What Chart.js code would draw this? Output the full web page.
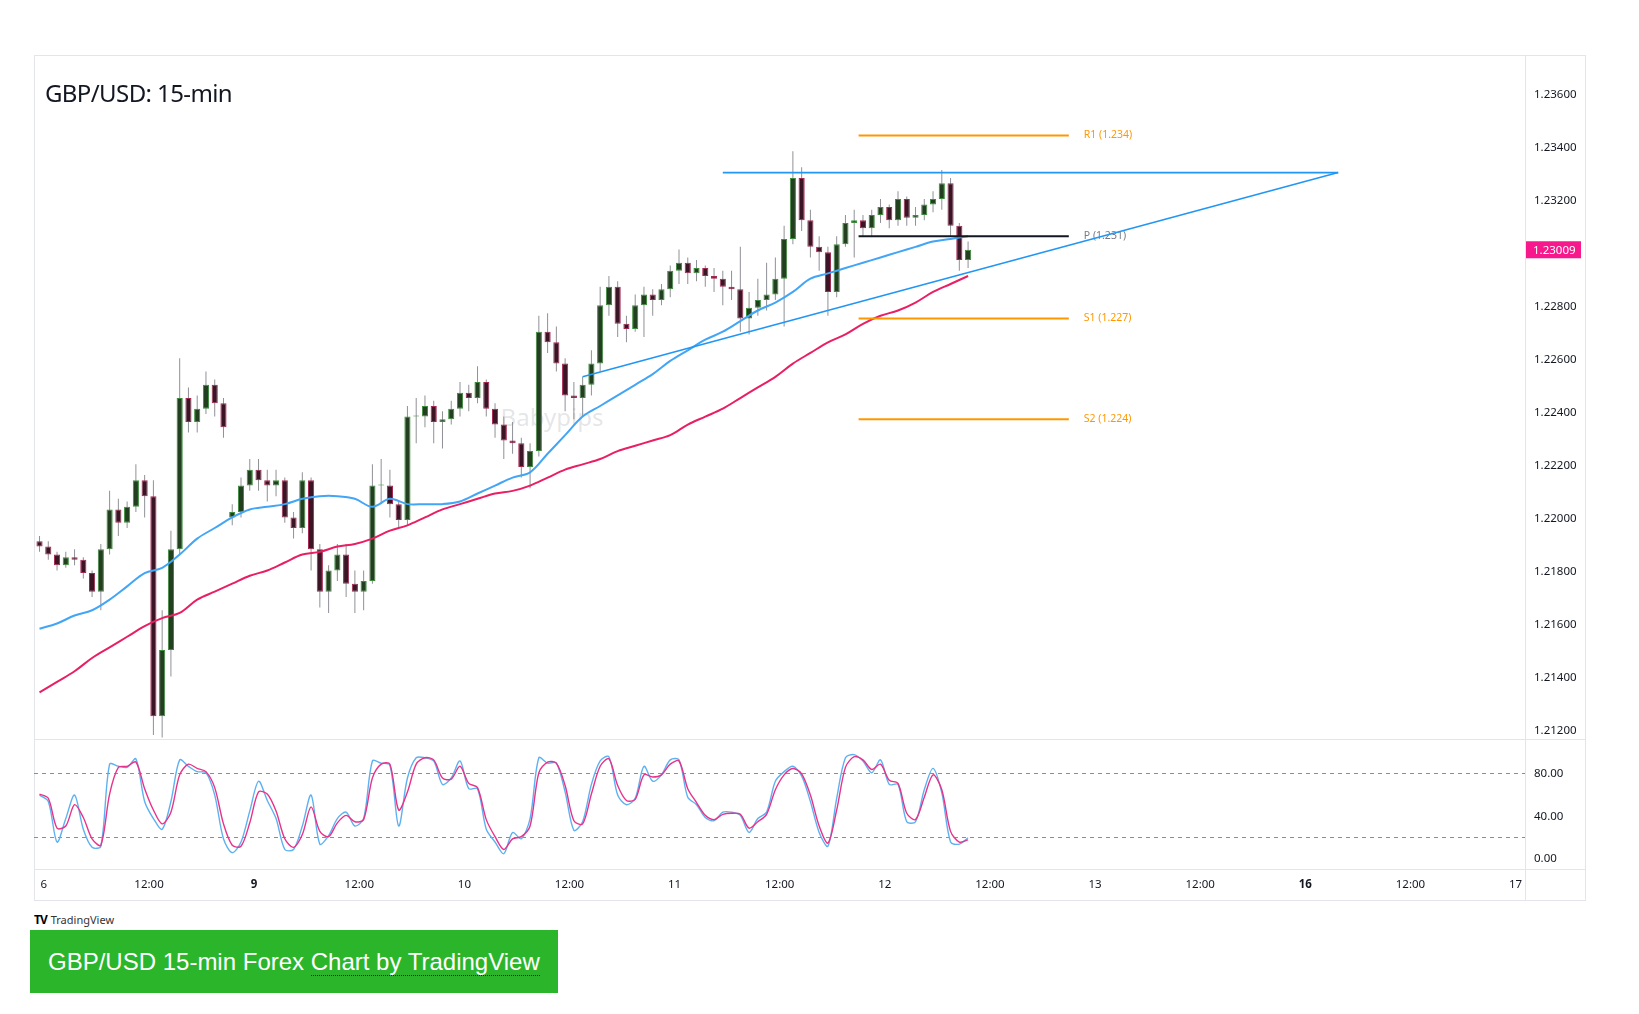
<!DOCTYPE html>
<html lang="en">
<head>
<meta charset="utf-8">
<title>GBP/USD 15-min</title>
<script src="https://cdn.jsdelivr.net/npm/chart.js@4.4.1/dist/chart.umd.min.js"></script>
<style>
  html, body { margin: 0; padding: 0; background: #fff; }
  body { position: relative; width: 1639px; height: 1014px; overflow: hidden; font-family: "Noto Sans", sans-serif; }
  .box { position: absolute; }
  #frame { left: 34px; top: 55px; width: 1552px; height: 846px; border: 1px solid #e3e5ea; box-sizing: border-box; }
  #vsep { left: 1525px; top: 55px; width: 1px; height: 846px; background: #e3e5ea; }
  #hsep1 { left: 34px; top: 739px; width: 1552px; height: 1px; background: #e3e5ea; }
  #hsep2 { left: 34px; top: 869px; width: 1552px; height: 1px; background: #e3e5ea; }
  #watermark { left: 552px; top: 416px; transform: translate(-50%, -50%); font-size: 24px; color: rgba(120,123,134,0.2); }
  #title { left: 45px; top: 77px; font-size: 24px; letter-spacing: -0.6px; color: #131722; line-height: 32px; }
  #mainWrap { left: 34px; top: 55px; width: 1552px; height: 684px; }
  #stochWrap { left: 34px; top: 739px; width: 1552px; height: 162px; }
  #tvlogo { left: 34px; top: 911px; font-size: 11px; color: #333; }
  #tvlogo b { font-size: 12px; color: #000; letter-spacing: -1px; margin-right: 4px; }
  #cta { left: 30px; top: 930px; width: 528px; height: 63px; background: #2bb52a; color: #fff;
         font-family: "Liberation Sans", Arial, sans-serif; font-size: 24px; line-height: 63px;
         padding-left: 18px; box-sizing: border-box; white-space: nowrap; }
  #cta span { border-bottom: 1px dotted #222; }
</style>
</head>
<body>
<div class="box" id="frame"></div>
<div class="box" id="watermark">Babypips</div>
<div class="box" id="mainWrap"><canvas id="mainChart" width="1552" height="684"></canvas></div>
<div class="box" id="stochWrap"><canvas id="stochChart" width="1552" height="162"></canvas></div>
<div class="box" id="vsep"></div>
<div class="box" id="hsep1"></div>
<div class="box" id="hsep2"></div>
<div class="box" id="title">GBP/USD: 15-min</div>
<div class="box" id="tvlogo"><b>TV</b>TradingView</div>
<div class="box" id="cta">GBP/USD 15-min Forex <span>Chart by TradingView</span></div>

<script>
// time axis: one slot = 15 minutes, a label every 48 slots (12 h)
const timeLabels = ['6', '12:00', '9', '12:00', '10', '12:00', '11', '12:00', '12', '12:00', '13', '12:00', '16', '12:00', '17'];
const boldLabels = ['9', '16'];
const slotsPerLabel = 48;
const slotsPerCandle = 4;
const firstCandleSlot = -2;
const maStep = 8;           // moving averages read every 2 hours

const priceTicks = [1.212, 1.214, 1.216, 1.218, 1.220, 1.222, 1.224, 1.226, 1.228, 1.230, 1.232, 1.234, 1.236];

// hourly OHLC
const open = [
  1.2191, 1.2189, 1.2186, 1.2182, 1.2185, 1.2184, 1.2179, 1.2172, 1.2188, 1.2203,
  1.2198, 1.2204, 1.2214, 1.2208, 1.2125, 1.2150, 1.2188, 1.2245, 1.2236, 1.2241,
  1.2250, 1.2243, 1.2200, 1.2202, 1.2212, 1.2218, 1.2214, 1.2212, 1.2214, 1.2200,
  1.2196, 1.2214, 1.2188, 1.2172, 1.2180, 1.2186, 1.2175, 1.2172, 1.2176, 1.2212,
  1.2212, 1.2205, 1.2199, 1.2238, 1.2238, 1.2242, 1.2236, 1.2237, 1.2241, 1.2247,
  1.2245, 1.2251, 1.2241, 1.2235, 1.2229, 1.2228, 1.2219, 1.2225, 1.2270, 1.2266,
  1.2258, 1.2246, 1.2245, 1.2250, 1.2258, 1.2280, 1.2287, 1.2273, 1.2271, 1.2280,
  1.2284, 1.2282, 1.2286, 1.2293, 1.2296, 1.2292, 1.2294, 1.2291, 1.2290, 1.2287,
  1.2286, 1.2275, 1.2279, 1.2282, 1.2284, 1.2290, 1.2305, 1.2328, 1.2312, 1.2302,
  1.2300, 1.2285, 1.2303, 1.2311, 1.2312, 1.2309, 1.2314, 1.2317, 1.2312, 1.2320,
  1.2313, 1.2314, 1.2318, 1.2320, 1.2326, 1.2310, 1.2297
];
const high = [
  1.2193, 1.2191, 1.2187, 1.2187, 1.2188, 1.2185, 1.2180, 1.2190, 1.2210, 1.2207,
  1.2206, 1.2220, 1.2216, 1.2214, 1.2165, 1.2195, 1.2260, 1.2249, 1.2246, 1.2255,
  1.2252, 1.2245, 1.2205, 1.2215, 1.2222, 1.2222, 1.2218, 1.2218, 1.2215, 1.2202,
  1.2217, 1.2215, 1.2190, 1.2182, 1.2190, 1.2190, 1.2180, 1.2180, 1.2220, 1.2222,
  1.2218, 1.2206, 1.2242, 1.2245, 1.2246, 1.2244, 1.2240, 1.2244, 1.2251, 1.2250,
  1.2257, 1.2252, 1.2243, 1.2238, 1.2236, 1.2230, 1.2228, 1.2276, 1.2277, 1.2272,
  1.2260, 1.2251, 1.2253, 1.2263, 1.2287, 1.2291, 1.2289, 1.2276, 1.2284, 1.2287,
  1.2286, 1.2288, 1.2295, 1.2301, 1.2298, 1.2297, 1.2295, 1.2294, 1.2293, 1.2293,
  1.2302, 1.2285, 1.2290, 1.2296, 1.2298, 1.2310, 1.2338, 1.2332, 1.2316, 1.2306,
  1.2302, 1.2306, 1.2314, 1.2316, 1.2314, 1.2316, 1.2320, 1.2318, 1.2323, 1.2321,
  1.2317, 1.2320, 1.2323, 1.2331, 1.2328, 1.2311, 1.2304
];
const low = [
  1.2187, 1.2184, 1.2180, 1.2181, 1.2182, 1.2177, 1.2170, 1.2165, 1.2186, 1.2193,
  1.2196, 1.2202, 1.2200, 1.2118, 1.2117, 1.2140, 1.2186, 1.2232, 1.2232, 1.2239,
  1.2238, 1.2230, 1.2197, 1.2200, 1.2210, 1.2210, 1.2206, 1.2208, 1.2198, 1.2192,
  1.2194, 1.2180, 1.2166, 1.2164, 1.2176, 1.2170, 1.2164, 1.2165, 1.2175, 1.2205,
  1.2200, 1.2196, 1.2197, 1.2228, 1.2234, 1.2228, 1.2226, 1.2235, 1.2238, 1.2240,
  1.2243, 1.2238, 1.2230, 1.2222, 1.2224, 1.2215, 1.2211, 1.2223, 1.2262, 1.2255,
  1.2240, 1.2237, 1.2238, 1.2246, 1.2255, 1.2276, 1.2268, 1.2266, 1.2270, 1.2268,
  1.2276, 1.2280, 1.2283, 1.2288, 1.2288, 1.2289, 1.2287, 1.2285, 1.2280, 1.2282,
  1.2270, 1.2269, 1.2276, 1.2278, 1.2282, 1.2272, 1.2303, 1.2308, 1.2298, 1.2293,
  1.2276, 1.2283, 1.2302, 1.2298, 1.2306, 1.2306, 1.2311, 1.2309, 1.2310, 1.2310,
  1.2310, 1.2312, 1.2315, 1.2316, 1.2306, 1.2293, 1.2294
];
const close = [
  1.2189, 1.2186, 1.2182, 1.2185, 1.2184, 1.2179, 1.2172, 1.2188, 1.2203, 1.2198,
  1.2204, 1.2214, 1.2208, 1.2125, 1.2150, 1.2188, 1.2245, 1.2236, 1.2241, 1.2250,
  1.2243, 1.2234, 1.2202, 1.2212, 1.2218, 1.2214, 1.2212, 1.2214, 1.2200, 1.2196,
  1.2214, 1.2188, 1.2172, 1.2180, 1.2186, 1.2175, 1.2172, 1.2176, 1.2212, 1.2212,
  1.2205, 1.2199, 1.2238, 1.2238, 1.2242, 1.2236, 1.2237, 1.2241, 1.2247, 1.2245,
  1.2251, 1.2241, 1.2235, 1.2229, 1.2228, 1.2219, 1.2225, 1.2270, 1.2266, 1.2258,
  1.2246, 1.2245, 1.2250, 1.2258, 1.2280, 1.2287, 1.2273, 1.2271, 1.2280, 1.2284,
  1.2282, 1.2286, 1.2293, 1.2296, 1.2292, 1.2294, 1.2291, 1.2290, 1.2287, 1.2286,
  1.2275, 1.2279, 1.2282, 1.2284, 1.2290, 1.2305, 1.2328, 1.2312, 1.2302, 1.2300,
  1.2285, 1.2303, 1.2311, 1.2312, 1.2309, 1.2314, 1.2317, 1.2312, 1.2320, 1.2313,
  1.2314, 1.2318, 1.2320, 1.2326, 1.2310, 1.2297, 1.23009
];

// moving averages, one value every 2 hours
const maBlue = [
  1.2158, 1.2160, 1.2163, 1.2165, 1.2169, 1.2174, 1.2179, 1.2181, 1.2186, 1.2192,
  1.2196, 1.2200, 1.2203, 1.2204, 1.2205, 1.2207, 1.2208, 1.2208, 1.2207, 1.2204,
  1.2207, 1.2205, 1.2205, 1.2205, 1.2206, 1.2209, 1.2212, 1.2215, 1.2217, 1.2224,
  1.2231, 1.2238, 1.2242, 1.2246, 1.2250, 1.2254, 1.2259, 1.2263, 1.2267, 1.2270,
  1.2274, 1.2278, 1.2281, 1.2285, 1.2290, 1.2292, 1.2294, 1.2296, 1.2298, 1.2300,
  1.2302, 1.2304, 1.2305, 1.2306
];
const maPink = [
  1.2134, 1.2138, 1.2142, 1.2147, 1.2151, 1.2155, 1.2159, 1.2162, 1.2164, 1.2169,
  1.2172, 1.2175, 1.2178, 1.2180, 1.2183, 1.2186, 1.2187, 1.2189, 1.2190, 1.2192,
  1.2195, 1.2197, 1.2200, 1.2203, 1.2205, 1.2207, 1.2209, 1.2210, 1.2212, 1.2215,
  1.2218, 1.2220, 1.2222, 1.2225, 1.2227, 1.2229, 1.2231, 1.2235, 1.2238, 1.2241,
  1.2245, 1.2249, 1.2253, 1.2258, 1.2262, 1.2266, 1.2269, 1.2273, 1.2276, 1.2278,
  1.2281, 1.2285, 1.2288, 1.2291
];

// stochastic, hourly
const stochK = [
  59, 53, 15, 37, 59, 27, 10, 11, 88, 86,
  85, 93, 53, 37, 27, 53, 92, 86, 81, 80,
  59, 18, 5, 15, 44, 72, 54, 37, 8, 8,
  30, 59, 13, 21, 37, 43, 30, 37, 91, 89,
  87, 30, 75, 94, 94, 91, 69, 75, 91, 65,
  65, 27, 15, 4, 24, 18, 37, 94, 89, 89,
  62, 26, 34, 69, 91, 95, 59, 50, 56, 86,
  72, 78, 92, 92, 57, 50, 38, 35, 43, 43,
  40, 24, 37, 43, 72, 81, 86, 77, 53, 24,
  11, 56, 94, 97, 91, 80, 92, 69, 69, 34,
  34, 64, 84, 61, 15, 13, 19
];
const stochD = [
  60, 56, 28, 30, 50, 38, 18, 12, 60, 85,
  86, 90, 65, 45, 32, 43, 78, 88, 84, 81,
  66, 32, 12, 11, 33, 62, 60, 44, 18, 10,
  22, 48, 25, 20, 33, 40, 34, 36, 75, 88,
  88, 45, 62, 88, 94, 92, 75, 74, 86, 70,
  66, 36, 20, 8, 18, 20, 30, 80, 90, 89,
  68, 35, 32, 60, 86, 93, 68, 54, 55, 78,
  76, 78, 88, 91, 65, 52, 40, 36, 41, 42,
  41, 28, 34, 41, 64, 78, 84, 79, 59, 30,
  14, 45, 85, 95, 92, 83, 88, 73, 70, 42,
  36, 57, 78, 64, 25, 15, 17
];
const stochBands = [80, 20];
const stochTicks = [0, 40, 80];

// pivot levels and drawn lines
const levelNames = ['R1', 'P', 'S1', 'S2'];
const levelValues = [1.2344, 1.2306, 1.2275, 1.2237];
const levelTags = ['R1 (1.234)', 'P (1.231)', 'S1 (1.227)', 'S2 (1.224)'];
const levelFrom = 372, levelTo = 468;
const resistance = { from: 310, to: 591, price: 1.2330 };
const trendline = { from: 246, to: 591, fromPrice: 1.2253, toPrice: 1.2330 };

const xMin = -4.52, xMax = 676.3;

const lastPrice = close[close.length - 1];
const slotOf = i => firstCandleSlot + slotsPerCandle * i;
const isUp = i => close[i] >= open[i];

const candleWicks = low.map((l, i) => ({ x: slotOf(i), y: [l, high[i]] }));
const candleBodies = open.map((o, i) => ({ x: slotOf(i), y: [o, close[i]] }));
const maPoints = arr => arr.map((v, k) => ({ x: firstCandleSlot + maStep * k, y: v }));
const hourly = arr => arr.map((v, i) => ({ x: slotOf(i), y: v }));

const lineDs = (data, color, width, order) => ({
  type: 'line', data, borderColor: color, borderWidth: width,
  pointRadius: 0, tension: 0, order
});

const levelSets = levelValues.map((v, i) => lineDs(
  [{ x: levelFrom, y: v }, { x: levelTo, y: v }],
  levelNames[i] === 'P' ? '#131722' : '#ff9800', 2, 2));

const xAxisCommon = { type: 'linear', min: xMin, max: xMax, offset: false };

function fixWidth(scale) {
  scale.width = 61;
  scale.paddingTop = 0;
  scale.paddingBottom = 0;
}

const overlayPlugin = {
  id: 'overlay',
  beforeDatasetsDraw(chart) {
    const { ctx, scales: { x, y } } = chart;
    ctx.save();
    ctx.font = '10.5px "Noto Sans"';
    ctx.textBaseline = 'middle';
    levelTags.forEach((t, i) => {
      ctx.fillStyle = levelNames[i] === 'P' ? '#787b86' : '#ff9800';
      ctx.fillText(t, x.getPixelForValue(levelTo) + 15, y.getPixelForValue(levelValues[i]));
    });
    ctx.restore();
  },
  afterDraw(chart) {
    const { ctx, scales: { y }, chartArea } = chart;
    const py = y.getPixelForValue(lastPrice);
    ctx.save();
    ctx.fillStyle = '#f7198b';
    ctx.fillRect(chartArea.right + 1, py - 8.5, 55, 17);
    ctx.fillStyle = '#ffffff';
    ctx.font = '11.5px "Noto Sans"';
    ctx.textBaseline = 'middle';
    ctx.fillText(lastPrice.toFixed(5), chartArea.right + 8, py + 0.5);
    ctx.restore();
  }
};

new Chart(document.getElementById('mainChart'), {
  type: 'bar',
  data: {
    datasets: [
      {
        type: 'bar', data: candleWicks, grouped: false, maxBarThickness: 1,
        backgroundColor: '#8f9196', order: 6
      },
      {
        type: 'bar', data: candleBodies, grouped: false,
        barPercentage: 0.9, categoryPercentage: 0.78, minBarLength: 1,
        backgroundColor: c => isUp(c.dataIndex) ? '#22401f' : '#3b1526',
        borderColor: c => isUp(c.dataIndex) ? '#3d8b3d' : '#a3284f',
        borderWidth: 1, borderSkipped: false, order: 5
      },
      Object.assign(lineDs(maPoints(maPink), '#e91e63', 2, 3), { tension: 0.35 }),
      Object.assign(lineDs(maPoints(maBlue), '#42a5f5', 2, 3), { tension: 0.35 }),
      ...levelSets,
      lineDs([{ x: resistance.from, y: resistance.price }, { x: resistance.to, y: resistance.price }], '#2196f3', 1.6, 1),
      lineDs([{ x: trendline.from, y: trendline.fromPrice }, { x: trendline.to, y: trendline.toPrice }], '#2196f3', 1.6, 1)
    ]
  },
  options: {
    responsive: false,
    animation: false,
    layout: { padding: 0 },
    plugins: { legend: { display: false }, tooltip: { enabled: false } },
    scales: {
      x: Object.assign({}, xAxisCommon, { display: false }),
      y: {
        type: 'linear', position: 'right', min: 1.211645, max: 1.237433,
        grid: { display: false, drawTicks: false }, border: { display: false },
        afterBuildTicks: s => { s.ticks = priceTicks.map(v => ({ value: v })); },
        afterFit: fixWidth,
        ticks: {
          padding: 9, labelOffset: 1.5, color: '#131722',
          font: { family: 'Noto Sans', size: 11.5 },
          // the live price tag covers the nearest tick, as on the original
          callback: v => Math.abs(v - lastPrice) < 0.0004 ? '' : v.toFixed(5)
        }
      }
    }
  },
  plugins: [overlayPlugin]
});

const bandsPlugin = {
  id: 'bands',
  beforeDatasetsDraw(chart) {
    const { ctx, scales: { y }, chartArea } = chart;
    ctx.save();
    ctx.strokeStyle = '#8a8d96';
    ctx.lineWidth = 1;
    ctx.setLineDash([4, 4]);
    stochBands.forEach(b => {
      const py = Math.round(y.getPixelForValue(b)) + 0.5;
      ctx.beginPath();
      ctx.moveTo(chartArea.left, py);
      ctx.lineTo(chartArea.right, py);
      ctx.stroke();
    });
    ctx.restore();
  }
};

new Chart(document.getElementById('stochChart'), {
  type: 'line',
  data: {
    datasets: [
      { data: hourly(stochK), borderColor: '#5eb1f0', borderWidth: 1.4, pointRadius: 0, tension: 0.3, order: 2 },
      { data: hourly(stochD), borderColor: '#e8338a', borderWidth: 1.4, pointRadius: 0, tension: 0.3, order: 1 }
    ]
  },
  options: {
    responsive: false,
    animation: false,
    layout: { padding: 0 },
    plugins: { legend: { display: false }, tooltip: { enabled: false } },
    scales: {
      x: Object.assign({}, xAxisCommon, {
        position: 'bottom',
        grid: { display: false, drawTicks: false }, border: { display: false },
        afterBuildTicks: s => { s.ticks = timeLabels.map((l, i) => ({ value: i * slotsPerLabel })); },
        afterFit: s => { s.height = 32; s.paddingLeft = 0; s.paddingRight = 0; },
        ticks: {
          autoSkip: false, maxRotation: 0, padding: 9, color: '#131722',
          font: c => ({
            family: 'Noto Sans', size: 11.5,
            weight: boldLabels.includes(timeLabels[c.index]) ? 'bold' : 'normal'
          }),
          callback: (v, i) => timeLabels[i]
        }
      }),
      y: {
        type: 'linear', position: 'right', min: -10.3, max: 111.6,
        grid: { display: false, drawTicks: false }, border: { display: false },
        afterBuildTicks: s => { s.ticks = stochTicks.map(v => ({ value: v })); },
        afterFit: fixWidth,
        ticks: {
          padding: 9, labelOffset: 1, color: '#131722',
          font: { family: 'Noto Sans', size: 11.5 },
          callback: v => v.toFixed(2)
        }
      }
    }
  },
  plugins: [bandsPlugin]
});
</script>
</body>
</html>
